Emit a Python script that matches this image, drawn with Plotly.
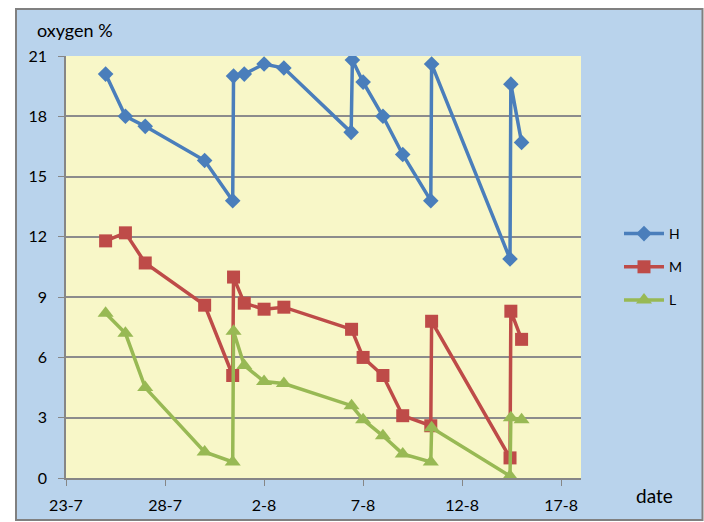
import plotly.graph_objects as go

# Sampling times (H has an extra reading on 6-8)
times_h = ["2010-07-25", "2010-07-26", "2010-07-27", "2010-07-30",
           "2010-07-31 10:00", "2010-07-31 11:00", "2010-08-01", "2010-08-02",
           "2010-08-03", "2010-08-06 09:30", "2010-08-06 11:00", "2010-08-07",
           "2010-08-08", "2010-08-09", "2010-08-10 10:00", "2010-08-10 11:00",
           "2010-08-14 10:00", "2010-08-14 11:00", "2010-08-15"]
times_ml = ["2010-07-25", "2010-07-26", "2010-07-27", "2010-07-30",
            "2010-07-31 10:00", "2010-07-31 11:00", "2010-08-01", "2010-08-02",
            "2010-08-03", "2010-08-06 10:00", "2010-08-07", "2010-08-08",
            "2010-08-09", "2010-08-10 10:00", "2010-08-10 11:00",
            "2010-08-14 10:00", "2010-08-14 11:00", "2010-08-15"]

oxygen_h = [20.1, 18.0, 17.5, 15.8, 13.8, 20.0, 20.1, 20.6, 20.4, 17.2, 20.8,
            19.7, 18.0, 16.1, 13.8, 20.6, 10.9, 19.6, 16.7]
oxygen_m = [11.8, 12.2, 10.7, 8.6, 5.1, 10.0, 8.7, 8.4, 8.5, 7.4, 6.0, 5.1,
            3.1, 2.6, 7.8, 1.0, 8.3, 6.9]
oxygen_l = [8.2, 7.2, 4.5, 1.3, 0.8, 7.3, 5.6, 4.8, 4.7, 3.6, 2.9, 2.1, 1.2,
            0.8, 2.5, 0.1, 3.0, 2.9]

series_names = ["H", "M", "L"]
x_tick_start = "2010-07-23"
x_range = ["2010-07-23", "2010-08-18"]
y_ticks = [0, 3, 6, 9, 12, 15, 18, 21]

FONT = "Lato"
BLUE, RED, GREEN = "#4A7EBB", "#BE4B48", "#98B954"

fig = go.Figure()
specs = [
    (series_names[0], times_h, oxygen_h, BLUE, "diamond", 12),
    (series_names[1], times_ml, oxygen_m, RED, "square", 13),
    (series_names[2], times_ml, oxygen_l, GREEN, "triangle-up", 14),
]
for name, xs, ys, col, sym, sz in specs:
    fig.add_trace(go.Scatter(
        x=xs, y=ys, name=name, mode="lines+markers", legendgroup=name,
        line=dict(color=col, width=3.5),
        marker=dict(symbol=sym, size=sz, color=col, line=dict(width=0)),
    ))

L, R, T, B = 66, 123, 56, 44
W, H = 704, 522
pw, ph = W - L - R, H - T - B

def px_x(p):
    return (p - L) / pw

def px_y(p):
    return (H - B - p) / ph

# Chart-area panel with border, then the plot-area fill on top of it
fig.add_shape(type="rect", xref="paper", yref="paper", layer="below",
              x0=px_x(16), x1=px_x(702.5), y0=px_y(520), y1=px_y(9),
              fillcolor="#B9D3EC", line=dict(color="#808080", width=2))
fig.add_shape(type="rect", xref="paper", yref="paper", layer="below",
              x0=0, x1=1, y0=0, y1=1,
              fillcolor="#F8F7C8", line=dict(width=0))

fig.add_annotation(text="oxygen %", xref="paper", yref="paper",
                   x=px_x(35), y=px_y(30), xanchor="left", yanchor="middle",
                   showarrow=False, font=dict(family=FONT, size=18, color="#000"))
fig.add_annotation(text="date", xref="paper", yref="paper",
                   x=px_x(634), y=px_y(495), xanchor="left", yanchor="middle",
                   showarrow=False, font=dict(family=FONT, size=19, color="#000"))

fig.update_layout(
    width=W, height=H,
    margin=dict(l=L, r=R, t=T, b=B, autoexpand=False),
    paper_bgcolor="white",
    plot_bgcolor="#F8F7C8",
    font=dict(family=FONT, size=16, color="#000"),
    showlegend=True,
    legend=dict(x=px_x(619), y=px_y(267), xanchor="left", yanchor="middle",
                bgcolor="rgba(0,0,0,0)", font=dict(family=FONT, size=14),
                tracegroupgap=12, itemwidth=40, traceorder="grouped"),
    xaxis=dict(type="date", range=x_range, tick0=x_tick_start,
               dtick=5 * 86400000, tickformat="%-d-%-m", automargin=False,
               showgrid=False, showline=True, linecolor="#868686", linewidth=1.5,
               ticks="outside", ticklen=6, tickcolor="#868686",
               ticklabelstandoff=6, zeroline=False),
    yaxis=dict(range=[0, 21], tickvals=y_ticks, showgrid=True, automargin=False,
               gridcolor="#8C8C8C", gridwidth=1.5, showline=True,
               linecolor="#868686", linewidth=1.5, ticks="outside", ticklen=6,
               tickcolor="#868686", ticklabelstandoff=8, zeroline=False),
)

fig.write_html("out.html")
